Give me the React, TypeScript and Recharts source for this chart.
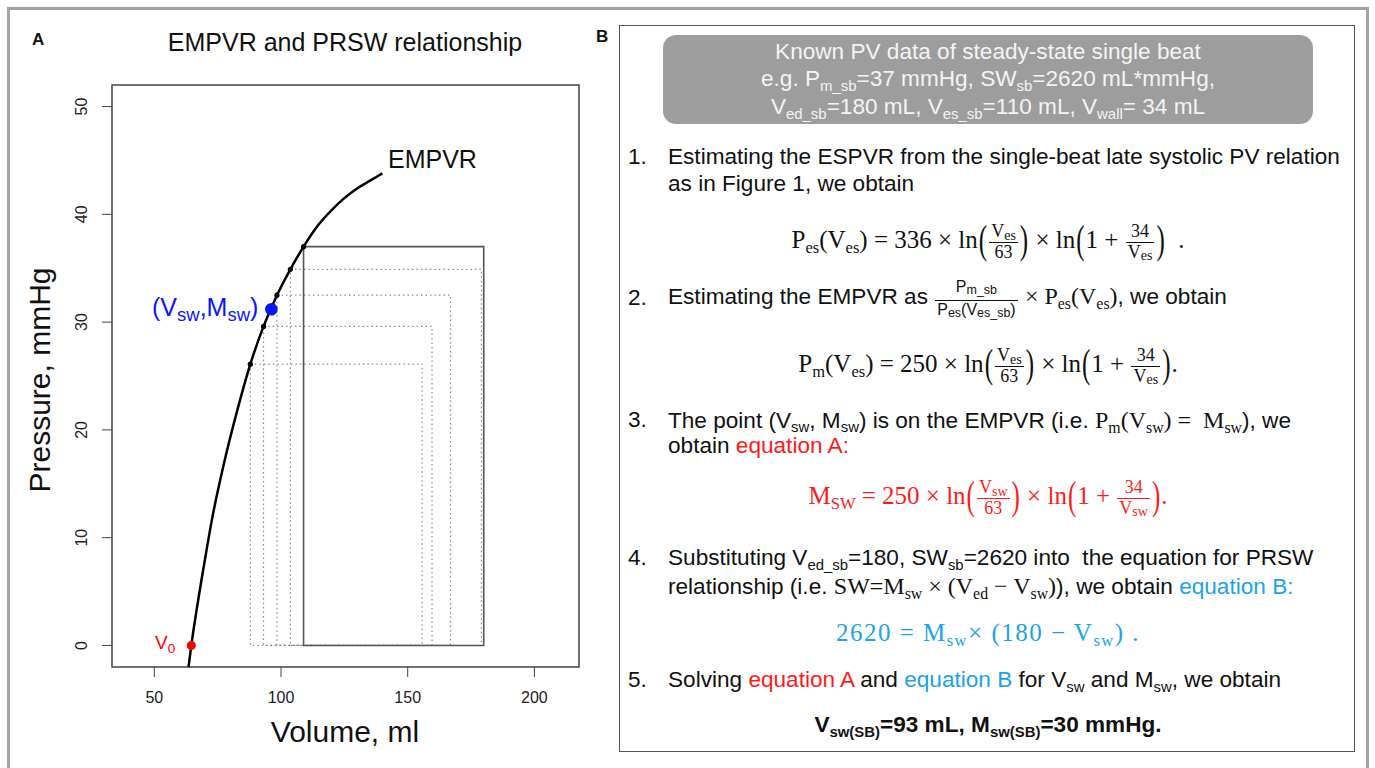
import React from 'react';
import { ComposedChart, Line, Scatter, XAxis, YAxis, ReferenceArea } from 'recharts';

// ---- data ----
const curveV = [63.5, 64.6, 66.5, 69.5, 73, 77.5, 82.5, 87.9, 93.1, 98.4, 103.7, 108.9, 115, 120, 125, 130, 135, 140];
const curveP = [-2.0, 0, 3.0, 7.3, 12.0, 16.9, 21.6, 26.1, 29.6, 32.5, 34.9, 37.0, 39.1, 40.4, 41.5, 42.4, 43.1, 43.8];

const dottedLeft = [87.9, 93.1, 98.4, 103.7];
const dottedRight = [155.7, 159.6, 166.9, 179.1];
const dottedTop = [26.1, 29.6, 32.5, 34.9];

const sbLeft = 108.9;
const sbRight = 180;
const sbTop = 37.0;

const swPoint = { v: 96.2, p: 31.2 };
const v0Point = { v: 64.6, p: 0 };

const xTicks = [50, 100, 150, 200];
const yTicks = [0, 10, 20, 30, 40, 50];
const xDomain: [number, number] = [33.3, 217.6];
const yDomain: [number, number] = [-2, 52];

const curveData = curveV.map((v, i) => ({ v, p: curveP[i] }));
const cornerData = [...dottedLeft.map((v, i) => ({ v, p: dottedTop[i] })), { v: sbLeft, p: sbTop }];

const SANS = '"Liberation Sans", Arial, Helvetica, sans-serif';
const SERIF = '"Liberation Serif", "DejaVu Serif", serif';
const RED = '#ff1a1a';
const BLUE = '#1aa3ea';
const FS = 22.6;

const Sub = ({ children, size = '0.66em', drop = '0.32em' }: any) => (
  <span style={{ fontSize: size, position: 'relative', top: drop }}>{children}</span>
);

const Frac = ({ n, d, size = 18, gap = 0 }: any) => (
  <span style={{ display: 'inline-flex', flexDirection: 'column', alignItems: 'center', verticalAlign: 'middle', fontSize: size, lineHeight: 1.1, margin: '0 1px' }}>
    <span style={{ padding: `0 2px ${gap}px 2px` }}>{n}</span>
    <span style={{ borderTop: '1px solid currentColor', padding: '0 2px', alignSelf: 'stretch', textAlign: 'center' }}>{d}</span>
  </span>
);

const FSub = ({ children }: any) => <Sub size="0.78em" drop="0.2em">{children}</Sub>;

const BP = ({ c }: any) => (
  <span style={{ display: 'inline-block', transform: 'scaleY(1.6)', fontWeight: 300, margin: '0 1px' }}>{c}</span>
);

const YTick = (props: any) => {
  const { x, y, payload } = props;
  return (
    <text x={x} y={y} transform={`rotate(-90 ${x} ${y})`} textAnchor="middle" fontSize={16} fill="#222" fontFamily={SANS}>
      {payload.value}
    </text>
  );
};

const Dot = (color: string, r: number) => (props: any) => {
  const { cx, cy } = props;
  return <circle cx={cx} cy={cy} r={r} fill={color} />;
};

const Line1 = ({ top, left = 668, children, style }: any) => (
  <div style={{ position: 'absolute', top: top - 16, left, height: 32, display: 'flex', alignItems: 'center', whiteSpace: 'nowrap', fontSize: FS, color: '#111', ...style }}>
    <span>{children}</span>
  </div>
);

const Num = ({ top, n }: any) => (
  <div style={{ position: 'absolute', top: top - 16, left: 628, height: 32, lineHeight: '32px', fontSize: FS, color: '#111' }}>{n}.</div>
);

const Eq = ({ top, children, color = '#111', spacing = 0 }: any) => (
  <div style={{ position: 'absolute', top: top - 25, left: 620, width: 736, height: 50, display: 'flex', alignItems: 'center', justifyContent: 'center', whiteSpace: 'nowrap', fontFamily: SERIF, fontSize: 25, color, letterSpacing: spacing }}>
    <span>{children}</span>
  </div>
);

const S = ({ children, size = 24 }: any) => <span style={{ fontFamily: SERIF, fontSize: size }}>{children}</span>;

export default function App() {
  return (
    <div style={{ position: 'absolute', left: 0, top: 0, width: 1375, height: 768, overflow: 'hidden', background: '#fff', fontFamily: SANS }}>
      {/* outer frame */}
      <div style={{ position: 'absolute', left: 7, top: 7, width: 1356, height: 800, border: '3px solid #a3a3a3' }} />

      {/* Panel A */}
      <div style={{ position: 'absolute', left: 0, top: 0 }}>
        <ComposedChart width={600} height={768} margin={{ top: 85, right: 21, bottom: 41, left: 52 }}>
          <XAxis type="number" dataKey="v" domain={xDomain} ticks={xTicks} allowDataOverflow axisLine={false}
            tickSize={10} tickMargin={15} tick={{ fontSize: 16, fill: '#222', fontFamily: SANS }} tickLine={{ stroke: '#444' }} height={60} />
          <YAxis type="number" dataKey="p" domain={yDomain} ticks={yTicks} allowDataOverflow axisLine={false}
            tickSize={10} tickMargin={15} tick={<YTick />} tickLine={{ stroke: '#444' }} width={60} />
          {dottedLeft.map((l, i) => (
            <ReferenceArea key={i} x1={l} x2={dottedRight[i]} y1={0} y2={dottedTop[i]} fill="none" stroke="#8a8a8a" strokeWidth={1.2} strokeDasharray="1.5 3" />
          ))}
          <ReferenceArea x1={sbLeft} x2={sbRight} y1={0} y2={sbTop} fill="none" stroke="#555" strokeWidth={1.6} />
          <ReferenceArea x1={xDomain[0]} x2={xDomain[1]} y1={yDomain[0]} y2={yDomain[1]} fill="none" stroke="#444" strokeWidth={1.5} />
          <Line data={curveData} dataKey="p" type="monotone" stroke="#000" strokeWidth={2.5} dot={false} isAnimationActive={false} />
          <Scatter data={cornerData} dataKey="p" shape={Dot('#000', 2.6)} isAnimationActive={false} />
          <Scatter data={[swPoint]} dataKey="p" shape={Dot('#0a14ff', 6.3)} isAnimationActive={false} />
          <Scatter data={[v0Point]} dataKey="p" shape={Dot('#ff0000', 4.5)} isAnimationActive={false} />
        </ComposedChart>
      </div>

      {/* Panel A texts */}
      <div style={{ position: 'absolute', left: 32, top: 30, fontSize: 17, fontWeight: 'bold', color: '#111' }}>A</div>
      <div style={{ position: 'absolute', left: 95, width: 500, top: 28, textAlign: 'center', fontSize: 25, color: '#111', whiteSpace: 'nowrap' }}>EMPVR and PRSW relationship</div>
      <div style={{ position: 'absolute', left: 388, top: 145, fontSize: 25, color: '#111' }}>EMPVR</div>
      <div style={{ position: 'absolute', left: 152, top: 293, fontSize: 25, color: '#0a14ff', whiteSpace: 'nowrap' }}>
        (V<Sub size="0.74em" drop="0.25em">sw</Sub>,M<Sub size="0.74em" drop="0.25em">sw</Sub>)
      </div>
      <div style={{ position: 'absolute', left: 155, top: 632, fontSize: 19, color: '#ff0000', whiteSpace: 'nowrap' }}>
        V<Sub size="0.72em" drop="0.3em">0</Sub>
      </div>
      <div style={{ position: 'absolute', left: 95, width: 500, top: 715, textAlign: 'center', fontSize: 30, color: '#111' }}>Volume, ml</div>
      <div style={{ position: 'absolute', left: -110, top: 360, width: 300, height: 40, lineHeight: '40px', textAlign: 'center', fontSize: 30, color: '#111', transform: 'rotate(-90deg)' }}>Pressure, mmHg</div>

      {/* Panel B */}
      <div style={{ position: 'absolute', left: 596, top: 27, fontSize: 17, fontWeight: 'bold', color: '#111' }}>B</div>
      <div style={{ position: 'absolute', left: 619, top: 25, width: 734, height: 725, border: '1.5px solid #555' }} />

      <div style={{ position: 'absolute', left: 663, top: 35, width: 650, height: 89, borderRadius: 13, background: '#9d9d9d', color: '#f4f4f4', fontSize: FS, textAlign: 'center', whiteSpace: 'nowrap' }}>
        <div style={{ position: 'absolute', top: 3, width: '100%', lineHeight: '27px' }}>Known PV data of steady-state single beat</div>
        <div style={{ position: 'absolute', top: 30, width: '100%', lineHeight: '27px' }}>
          e.g. P<Sub>m_sb</Sub>=37 mmHg, SW<Sub>sb</Sub>=2620 mL*mmHg,
        </div>
        <div style={{ position: 'absolute', top: 58, width: '100%', lineHeight: '27px' }}>
          V<Sub>ed_sb</Sub>=180 mL, V<Sub>es_sb</Sub>=110 mL, V<Sub>wall</Sub>= 34 mL
        </div>
      </div>

      <Num top={157} n={1} />
      <Line1 top={157}>Estimating the ESPVR from the single-beat late systolic PV relation</Line1>
      <Line1 top={184}>as in Figure 1, we obtain</Line1>

      <Eq top={242}>
        P<Sub>es</Sub>(V<Sub>es</Sub>) = 336 × ln<BP c="(" /><Frac n={<>V<FSub>es</FSub></>} d="63" /><BP c=")" /> × ln<BP c="(" />1 + <Frac n="34" d={<>V<FSub>es</FSub></>} /><BP c=")" />&nbsp;&nbsp;.
      </Eq>

      <Num top={298} n={2} />
      <Line1 top={298}>
        Estimating the EMPVR as <Frac size={16} gap={4} n={<>P<FSub>m_sb</FSub></>} d={<>P<FSub>es</FSub>(V<FSub>es_sb</FSub>)</>} /> <S>× P<Sub>es</Sub>(V<Sub>es</Sub>)</S>, we obtain
      </Line1>

      <Eq top={366}>
        P<Sub>m</Sub>(V<Sub>es</Sub>) = 250 × ln<BP c="(" /><Frac n={<>V<FSub>es</FSub></>} d="63" /><BP c=")" /> × ln<BP c="(" />1 + <Frac n="34" d={<>V<FSub>es</FSub></>} /><BP c=")" />.
      </Eq>

      <Num top={420} n={3} />
      <Line1 top={420}>
        The point (V<Sub>sw</Sub>, M<Sub>sw</Sub>) is on the EMPVR (i.e. <S>P<Sub>m</Sub>(V<Sub>sw</Sub>) = &nbsp;M<Sub>sw</Sub></S>), we
      </Line1>
      <Line1 top={446}>obtain <span style={{ color: RED }}>equation A:</span></Line1>

      <Eq top={498} color={RED}>
        M<Sub>SW</Sub> = 250 × ln<BP c="(" /><Frac n={<>V<FSub>sw</FSub></>} d="63" /><BP c=")" /> × ln<BP c="(" />1 + <Frac n="34" d={<>V<FSub>sw</FSub></>} /><BP c=")" />.
      </Eq>

      <Num top={558} n={4} />
      <Line1 top={558}>Substituting V<Sub>ed_sb</Sub>=180, SW<Sub>sb</Sub>=2620 into &nbsp;the equation for PRSW</Line1>
      <Line1 top={586}>
        relationship (i.e. <S>SW=M<Sub>sw</Sub> × (V<Sub>ed</Sub> − V<Sub>sw</Sub>)</S>), we obtain <span style={{ color: BLUE }}>equation B:</span>
      </Line1>

      <Eq top={633} color={BLUE} spacing={1.5}>
        2620 = M<Sub>sw</Sub>× (180 − V<Sub>sw</Sub>) .
      </Eq>

      <Num top={680} n={5} />
      <Line1 top={680}>
        Solving <span style={{ color: RED }}>equation A</span> and <span style={{ color: BLUE }}>equation B</span> for V<Sub>sw</Sub> and M<Sub>sw</Sub>, we obtain
      </Line1>

      <div style={{ position: 'absolute', left: 620, width: 736, top: 712, textAlign: 'center', fontSize: FS, fontWeight: 'bold', color: '#111', whiteSpace: 'nowrap' }}>
        V<Sub>sw(SB)</Sub>=93 mL, M<Sub>sw(SB)</Sub>=30 mmHg.
      </div>
    </div>
  );
}
